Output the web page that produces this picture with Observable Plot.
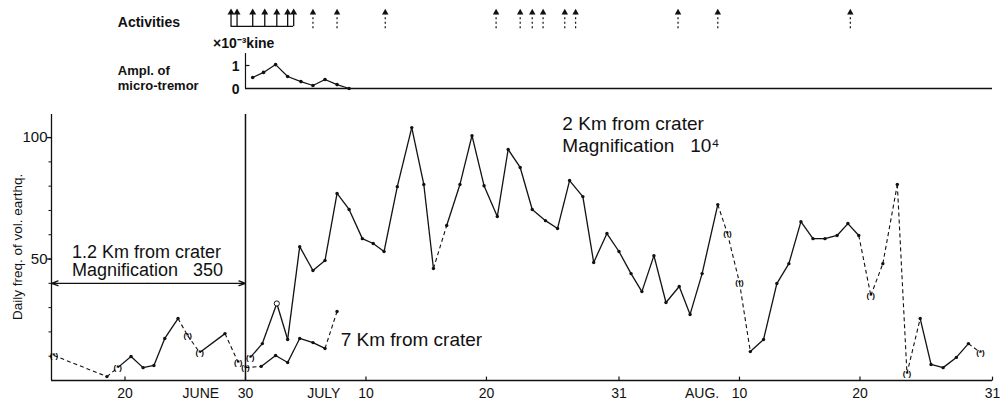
<!DOCTYPE html>
<html><head><meta charset="utf-8">
<script src="https://cdn.jsdelivr.net/npm/d3@7"></script>
<script src="https://cdn.jsdelivr.net/npm/@observablehq/plot@0.6"></script>
<style>
body{margin:0;background:#fff;}
#chart{position:relative;width:1006px;height:400px;overflow:hidden;}
#chart svg{display:block;overflow:visible;}
</style></head><body><div id="chart"></div>
<script>
// Day numbering: June d -> d, July d -> 30 + d, August d -> 61 + d
const xDomain = [13.9, 92];

// ---- Activities (arrows) ----
const eruptionDays = [28.8, 29.3, 30.6, 31.6, 32.6, 33.5, 34.0];
const minorActivityDays = [35.6, 37.6, 41.6, 50.8, 52.8, 53.8, 54.7, 56.5, 57.4, 65.9, 69.2, 80.2];

// ---- Amplitude of micro-tremor (x10^-3 kine) ----
const tremorDays = [30.6, 31.5, 32.5, 33.5, 34.6, 35.6, 36.6, 37.6, 38.6];
const tremorAmpl = [0.48, 0.70, 1.04, 0.52, 0.30, 0.13, 0.39, 0.17, 0.0];

// ---- 1.2 Km from crater (June) ----
const kmOneDays = [14.1, 18.5, 19.4, 20.5, 21.5, 22.4, 23.3, 24.4, 25.2, 26.2, 28.3, 29.4];
const kmOneCounts = [10.3, 1.6, 5.3, 9.9, 5.3, 6.2, 17.3, 25.5, 18.5, 11.5, 19.3, 7.4];
const kmOneEstimated = [0, 2, 8, 9, 11];
const kmOneDashed = [0, 1, 7, 8, 10];

// ---- 2 Km from crater ----
const kmTwoDays = [30.4, 31.4, 32.6, 33.5, 34.5, 35.6, 36.6, 37.6, 38.6, 39.7, 40.6, 41.5, 42.6, 43.8, 44.8, 45.6, 46.7, 47.8, 48.8, 49.8, 50.9, 51.8, 52.8, 53.8, 54.9, 55.9, 56.9, 58.0, 58.9, 60.0, 61.0, 62.0, 62.9, 63.9, 64.9, 66.0, 66.9, 67.9, 69.2, 70.0, 71.0, 71.9, 73.0, 74.1, 75.1, 76.1, 77.1, 78.1, 79.1, 80.0, 80.9, 81.9, 82.9, 84.1, 84.9, 86.0, 86.9, 87.9, 89.0, 90.0, 91.0];
const kmTwoCounts = [9.5, 15.2, 31.7, 16.9, 55.1, 45.3, 49.4, 77.0, 70.4, 58.4, 56.4, 53.1, 79.8, 104.1, 80.7, 46.1, 63.8, 80.7, 100.8, 80.2, 67.5, 95.1, 87.7, 70.4, 65.8, 62.6, 82.3, 75.7, 48.6, 60.5, 53.1, 44.0, 36.6, 51.4, 32.1, 38.7, 27.2, 44.0, 72.4, 60.5, 40.3, 11.9, 16.9, 39.9, 48.1, 65.4, 58.4, 58.4, 59.7, 64.6, 59.7, 35.0, 48.1, 80.7, 2.9, 25.5, 6.6, 5.3, 9.5, 15.2, 11.5];
const kmTwoEstimated = [0, 39, 40, 51, 54, 60];
const kmTwoDashed = [15, 38, 39, 40, 50, 51, 52, 53, 54, 59];
const kmTwoOpen = [2];

// ---- 7 Km from crater ----
const kmSevenDays = [30.0, 31.3, 32.5, 33.5, 34.5, 35.6, 36.6, 37.6];
const kmSevenCounts = [5.3, 5.8, 10.3, 7.4, 17.3, 15.6, 13.2, 28.4];
const kmSevenEstimated = [0];
const kmSevenDashed = [0, 6];

// ---- axes ----
const xTickDays = [20, 30, 40, 50, 61, 71, 81, 92];
const xTickLabels = ["20", "30", "10", "20", "31", "10", "20", "31"];
const monthNames = ["JUNE", "JULY", "AUG."];
const monthDays = [26.3, 36.5, 67.9];
const yTicks = [10, 20, 30, 40, 50, 60, 70, 80, 90, 100];
const yLabelTicks = [50, 100];
const yTop = 109.5;
const stationChange = 30;          // June 30: change of station
const nearStationSpan = [13.9, 30];
const nearStationArrowY = 40;
const tremorTicks = [0, 1];

const INK = "#111";
const FONT = '"Liberation Sans", Arial, Helvetica, sans-serif';

function series(days, counts, est, dashed) {
  const pts = days.map((d, i) => ({day: d, v: counts[i], est: est.includes(i), i}));
  const segs = d3.pairs(pts).map(([a, b]) => ({a, b, dashed: dashed.includes(a.i)}));
  return {pts, segs};
}
function seriesMarks(s, open = []) {
  const link = (data, extra) => Plot.link(data, {x1: d => d.a.day, y1: d => d.a.v, x2: d => d.b.day, y2: d => d.b.v, stroke: INK, strokeWidth: 1.3, ...extra});
  return [
    link(s.segs.filter(d => !d.dashed), {}),
    link(s.segs.filter(d => d.dashed), {strokeDasharray: "4,3", strokeWidth: 1.1}),
    Plot.dot(s.pts.filter(d => !d.est && !open.includes(d.i)), {x: "day", y: "v", r: 1.7, fill: INK}),
    Plot.dot(s.pts.filter(d => open.includes(d.i)), {x: "day", y: "v", r: 2.6, fill: "#fff", stroke: INK, strokeWidth: 1}),
    Plot.text(s.pts.filter(d => d.est), {x: "day", y: "v", text: () => "(*)", fontSize: 8, fontWeight: "bold", fontFamily: FONT, fill: "#000"})
  ];
}

const tremor = tremorDays.map((d, i) => ({day: d, a: tremorAmpl[i]}));

// ---------- top panel ----------
const topPlot = Plot.plot({
  width: 1006, height: 95, marginLeft: 51, marginRight: 14, marginTop: 0, marginBottom: 0,
  x: {domain: xDomain, axis: null},
  y: {domain: [0, 1], range: [88, 65], axis: null},
  style: {background: "#fff", overflow: "visible"},
  marks: [
    // activity arrows
    Plot.ruleX(eruptionDays, {x: d => d, y1: () => 2.7, y2: () => 3.3, stroke: INK, strokeWidth: 1.3}),
    Plot.dot(eruptionDays, {x: d => d, y: () => 3.3, symbol: "triangle", r: 2.6, fill: INK}),
    Plot.ruleY([0], {y: () => 2.7, x1: () => eruptionDays[0], x2: () => eruptionDays[eruptionDays.length - 1], stroke: INK, strokeWidth: 1.3}),
    Plot.ruleX(minorActivityDays, {x: d => d, y1: () => 2.6, y2: () => 3.2, stroke: INK, strokeWidth: 1.2, strokeDasharray: "2,2.5"}),
    Plot.dot(minorActivityDays, {x: d => d, y: () => 3.3, symbol: "triangle", r: 2.4, fill: INK}),
    Plot.text(["Activities"], {x: () => 19.4, y: () => 2.85, text: d => d, textAnchor: "start", fontSize: 14, fontWeight: "bold", fontFamily: FONT, fill: INK}),
    // tremor panel
    Plot.ruleX([stationChange], {x: d => d, y1: () => 0, y2: () => 1.52, stroke: INK, strokeWidth: 1.2}),
    Plot.ruleY([0], {x1: () => stationChange, x2: () => xDomain[1], stroke: INK, strokeWidth: 1.5}),
    Plot.link([1], {x1: () => stationChange, x2: () => stationChange + 0.33, y1: d => d, y2: d => d, stroke: INK, strokeWidth: 1.2}),
    Plot.text(tremorTicks, {x: () => stationChange, y: d => d, dx: -6, dy: 1, text: d => String(d), textAnchor: "end", fontSize: 14, fontWeight: "bold", fontFamily: FONT, fill: INK}),
    Plot.line(tremor, {x: "day", y: "a", stroke: INK, strokeWidth: 1.2}),
    Plot.dot(tremor, {x: "day", y: "a", r: 1.8, fill: INK}),
    Plot.text(["×10⁻³kine"], {x: () => 27.3, y: () => 1.96, text: d => d, textAnchor: "start", fontSize: 14, fontWeight: "bold", fontFamily: FONT, fill: INK}),
    Plot.text(["Ampl. of", "micro-tremor"], {x: () => 19.4, y: (d, i) => i === 0 ? 0.79 : 0.12, text: d => d, textAnchor: "start", fontSize: 13, fontWeight: "bold", fontFamily: FONT, fill: INK})
  ]
});

// ---------- main panel ----------
const s1 = series(kmOneDays, kmOneCounts, kmOneEstimated, kmOneDashed);
const s2 = series(kmTwoDays, kmTwoCounts, kmTwoEstimated, kmTwoDashed);
const s7 = series(kmSevenDays, kmSevenCounts, kmSevenEstimated, kmSevenDashed);
const mid = (nearStationSpan[0] + nearStationSpan[1]) / 2;

const mainPlot = Plot.plot({
  width: 1006, height: 305, marginLeft: 51, marginRight: 14, marginTop: 19, marginBottom: 20,
  x: {domain: xDomain, axis: null},
  y: {domain: [0, yTop], axis: null},
  style: {background: "#fff", overflow: "visible"},
  marks: [
    // frame lines
    Plot.ruleX([xDomain[0]], {x: d => d, y1: () => 0, y2: () => yTop, stroke: INK, strokeWidth: 1.3}),
    Plot.ruleX([stationChange], {x: d => d, y1: () => 0, y2: () => yTop, stroke: INK, strokeWidth: 1.5}),
    Plot.ruleY([0], {x1: () => xDomain[0], x2: () => xDomain[1], stroke: INK, strokeWidth: 1.3}),
    // y ticks
    Plot.link(yTicks, {x1: () => xDomain[0] - 0.25, x2: () => xDomain[0], y1: d => d, y2: d => d, stroke: INK, strokeWidth: 1}),
    Plot.link(yLabelTicks, {x1: () => xDomain[0] - 0.4, x2: () => xDomain[0], y1: d => d, y2: d => d, stroke: INK, strokeWidth: 1.3}),
    Plot.text(yLabelTicks, {x: () => xDomain[0], y: d => d, dx: -4, text: d => String(d), textAnchor: "end", fontSize: 15, fontFamily: FONT, fill: INK}),
    Plot.text(["Daily freq. of vol. earthq."], {frameAnchor: "left", y: () => 55, dx: -34, rotate: -90, textAnchor: "middle", text: d => d, fontSize: 13.5, fontFamily: FONT, fill: INK}),
    // x ticks
    Plot.link(xTickDays, {x1: d => d, x2: d => d, y1: () => 0, y2: () => 1.6, stroke: INK, strokeWidth: 1.2}),
    Plot.text(xTickDays, {x: d => d, y: () => 0, dy: 13, text: (d, i) => xTickLabels[i], fontSize: 14, fontFamily: FONT, fill: INK}),
    Plot.text(monthNames, {x: (d, i) => monthDays[i], y: () => 0, dy: 13, text: d => d, fontSize: 14, fontFamily: FONT, fill: INK}),
    // station span arrow
    Plot.arrow([nearStationSpan[0], nearStationSpan[1]], {x1: () => mid, x2: d => d, y1: () => nearStationArrowY, y2: () => nearStationArrowY, stroke: INK, strokeWidth: 1.3, headLength: 8, headAngle: 40}),
    // series
    ...seriesMarks(s1),
    ...seriesMarks(s2, kmTwoOpen),
    ...seriesMarks(s7),
    // annotations
    Plot.text(["1.2 Km from crater", "Magnification\u00a0\u00a0\u00a0350"], {x: () => 15.6, y: (d, i) => i === 0 ? 52.7 : 45.3, text: d => d, textAnchor: "start", fontSize: 18, fontFamily: FONT, fill: INK}),
    Plot.text(["2 Km from crater", "Magnification\u00a0\u00a0\u00a010⁴"], {x: () => 56.3, y: (d, i) => i === 0 ? 105.8 : 96.7, text: d => d, textAnchor: "start", fontSize: 19, fontFamily: FONT, fill: INK}),
    Plot.text(["7 Km from crater"], {x: () => 37.9, y: () => 16.9, text: d => d, textAnchor: "start", fontSize: 19, fontFamily: FONT, fill: INK})
  ]
});

const chart = document.getElementById("chart");
chart.appendChild(topPlot);
chart.appendChild(mainPlot);
</script>
</body></html>
